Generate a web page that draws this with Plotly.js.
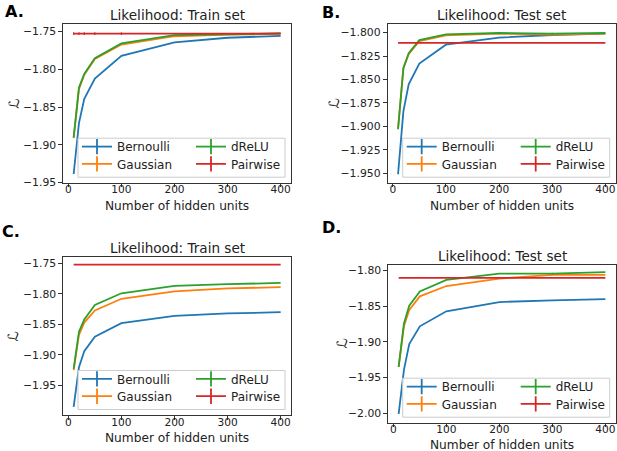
<!DOCTYPE html>
<html>
<head>
<meta charset="utf-8">
<script src="https://cdn.plot.ly/plotly-3.0.1.min.js"></script>
<style>html,body{margin:0;padding:0;background:#fff;}#chart{width:617px;height:451px;}</style>
</head>
<body>
<div id="chart"></div>
<script>
// ---------------- data ----------------
var hidden = [10, 20, 30, 50, 100, 200, 300, 400];
var xTicks = [0, 100, 200, 300, 400];
var seriesNames = ['Bernoulli', 'Gaussian', 'dReLU', 'Pairwise'];
var seriesColors = ['#1f77b4', '#ff7f0e', '#2ca02c', '#d62728'];
var panelTitles = ['Likelihood: Train set', 'Likelihood: Test set', 'Likelihood: Train set', 'Likelihood: Test set'];
var panelLetters = ['A.', 'B.', 'C.', 'D.'];
var xTitle = 'Number of hidden units';
var yTitle = 'ℒ';

// Panel A (train)
var bernA  = [-1.9385, -1.871, -1.839, -1.812, -1.782, -1.764, -1.758, -1.7555];
var gaussA = [-1.891, -1.826, -1.807, -1.786, -1.767, -1.756, -1.754, -1.753];
var dreluA = [-1.890, -1.824, -1.806, -1.785, -1.7655, -1.7545, -1.7535, -1.752];
var pairA  = -1.7525;
var pairErrA = [0.0018, 0.0018, 0.0018, 0.0018, 0.0018, 0, 0, 0];
// Panel B (test)
var bernB  = [-1.951, -1.884, -1.855, -1.833, -1.8128, -1.8053, -1.8025, -1.801];
var gaussB = [-1.902, -1.838, -1.823, -1.809, -1.803, -1.801, -1.802, -1.801];
var dreluB = [-1.903, -1.838, -1.822, -1.808, -1.8018, -1.8004, -1.801, -1.8004];
var dreluErrB = [0, 0, 0, 0, 0, 0.0009, 0.0009, 0];
var pairB  = -1.811;
// Panel C (train)
var bernC  = [-1.985, -1.920, -1.894, -1.870, -1.848, -1.836, -1.832, -1.830];
var gaussC = [-1.925, -1.867, -1.847, -1.827, -1.808, -1.796, -1.791, -1.789];
var dreluC = [-1.923, -1.862, -1.842, -1.818, -1.799, -1.787, -1.784, -1.782];
var pairC  = -1.752;
// Panel D (test)
var bernD  = [-2.001, -1.939, -1.903, -1.878, -1.857, -1.844, -1.8415, -1.840];
var gaussD = [-1.935, -1.878, -1.855, -1.836, -1.8215, -1.811, -1.806, -1.806];
var dreluD = [-1.935, -1.874, -1.849, -1.829, -1.813, -1.804, -1.804, -1.802];
var dreluErrD = [0, 0, 0, 0, 0, 0, 0.0012, 0];
var pairD  = -1.810;

// ---------------- layout helpers ----------------
var W = 617, H = 451;
function px(x) { return x / W; }
function py(y) { return 1 - y / H; }

// frame boxes in pixels: [left, right, top, bottom]
var frames = [
  [63.3, 291, 24.3, 182.7],
  [387.7, 615.7, 24.3, 182.7],
  [63.3, 291, 257.3, 415],
  [388.3, 615.7, 264.7, 422.7]
];
var xRange = [-9.5, 419.5];
var yRanges = [[-1.95, -1.7402], [-1.960, -1.7911], [-1.9985, -1.740], [-2.0132, -1.7916]];
var yTicks = [
  [-1.95, -1.90, -1.85, -1.80, -1.75],
  [-1.950, -1.925, -1.900, -1.875, -1.850, -1.825, -1.800],
  [-1.95, -1.90, -1.85, -1.80, -1.75],
  [-2.00, -1.95, -1.90, -1.85, -1.80]
];
var yFormats = ['.2f', '.3f', '.2f', '.2f'];
var letterPos = [[14, 11], [331, 12.5], [11, 231], [331, 228]];
var yTitleX = [13.3, 333, 13.3, 341.7];
var xTitleGap = [23, 23, 23.3, 21.8];

var panelData = [
  [bernA, gaussA, dreluA, pairA],
  [bernB, gaussB, dreluB, pairB],
  [bernC, gaussC, dreluC, pairC],
  [bernD, gaussD, dreluD, pairD]
];
var panelErrors = [
  [null, null, null, pairErrA],
  [null, null, dreluErrB, null],
  [null, null, null, null],
  [null, null, dreluErrD, null]
];

var FONT = 'DejaVu Sans, sans-serif';
var traces = [];
var layout = {
  width: W, height: H,
  margin: {l: 0, r: 0, t: 0, b: 0},
  paper_bgcolor: '#fff', plot_bgcolor: '#fff',
  showlegend: true,
  annotations: [], shapes: []
};

// legend slots: [column, row] for each series (column-major like the reference)
var slot = [[0, 0], [0, 1], [1, 0], [1, 1]];
var legendCount = 0;

for (var p = 0; p < 4; p++) {
  var sfx = p === 0 ? '' : String(p + 1);
  var f = frames[p];
  var vals = panelData[p];
  // data traces
  for (var s = 0; s < 4; s++) {
    var yv = (s === 3) ? hidden.map(function () { return vals[3]; }) : vals[s];
    var tr = {
      type: 'scatter', mode: 'lines', x: hidden, y: yv,
      xaxis: 'x' + sfx, yaxis: 'y' + sfx,
      line: {color: seriesColors[s], width: 1.8},
      showlegend: false, hoverinfo: 'skip'
    };
    if (panelErrors[p][s]) {
      tr.error_y = {type: 'data', array: panelErrors[p][s], visible: true,
                    color: seriesColors[s], thickness: 1.2, width: 0};
    }
    traces.push(tr);
  }
  // legend box
  var bRight = f[1] - 6, bLeft = bRight - 207, bBottom = f[3] - 5.5, bTop = bBottom - 39;
  layout.shapes.push({
    type: 'rect', xref: 'paper', yref: 'paper', layer: 'above',
    x0: px(bLeft), x1: px(bRight), y0: py(bBottom), y1: py(bTop),
    line: {color: '#cccccc', width: 1}, fillcolor: 'rgba(255,255,255,0.8)'
  });
  // one legend per entry so that rows and columns sit where the reference has them
  for (var s2 = 0; s2 < 4; s2++) {
    var lname = 'legend' + (legendCount === 0 ? '' : String(legendCount + 1));
    legendCount++;
    var rowC = bTop + (slot[s2][1] === 0 ? 8.7 : 26);
    layout[lname] = {
      x: px(bLeft + (slot[s2][0] === 0 ? 0 : 114) - 1), y: py(rowC - 14.8),
      xanchor: 'left', yanchor: 'top',
      bgcolor: 'rgba(0,0,0,0)', borderwidth: 0,
      font: {family: FONT, size: 12, color: '#222'},
      itemwidth: 30
    };
    traces.push({
      type: 'scatter', mode: 'lines+markers', x: [null], y: [null],
      xaxis: 'x' + sfx, yaxis: 'y' + sfx,
      name: seriesNames[s2], legend: lname, showlegend: true,
      line: {color: seriesColors[s2], width: 1.8},
      marker: {symbol: 'line-ns-open', size: 11, line: {color: seriesColors[s2], width: 1.8}},
      hoverinfo: 'skip'
    });
  }
  // axes: main x axis draws the frame and tick marks
  layout['xaxis' + sfx] = {
    domain: [px(f[0]), px(f[1])], anchor: 'y' + sfx, range: xRange,
    tickvals: xTicks, ticks: 'outside', ticklen: 3.5, tickcolor: '#333',
    showline: true, mirror: true, linecolor: '#333', linewidth: 1,
    showgrid: false, zeroline: false, showticklabels: false
  };
  // overlay x axis that carries the tick labels, placed a little higher
  var lab = 'xaxis' + (p + 5);
  layout[lab] = {
    overlaying: 'x' + sfx, anchor: 'free', position: py(f[3] - 1), side: 'bottom',
    range: xRange, tickvals: xTicks, ticks: '', showline: false,
    showgrid: false, zeroline: false,
    tickfont: {family: FONT, size: 10.6, color: '#222'}
  };
  traces.push({type: 'scatter', mode: 'lines', x: [null], y: [null],
               xaxis: 'x' + (p + 5), yaxis: 'y' + sfx, showlegend: false, hoverinfo: 'skip'});
  layout['yaxis' + sfx] = {
    domain: [py(f[3]), py(f[2])], anchor: 'x' + sfx, range: yRanges[p],
    tickvals: yTicks[p], tickformat: yFormats[p], ticks: 'outside', ticklen: 4, tickcolor: '#333',
    showline: true, mirror: true, linecolor: '#333', linewidth: 1,
    showgrid: false, zeroline: false,
    tickfont: {family: FONT, size: 10.8, color: '#222'}
  };
  // x axis title
  layout.annotations.push({
    xref: 'paper', yref: 'paper', x: px((f[0] + f[1]) / 2), y: py(f[3] + xTitleGap[p]),
    xanchor: 'center', yanchor: 'middle', showarrow: false, borderpad: 0,
    text: xTitle, font: {family: FONT, size: 12.2, color: '#222'}
  });
  // y axis title
  layout.annotations.push({
    xref: 'paper', yref: 'paper', x: px(yTitleX[p]), y: py((f[2] + f[3]) / 2),
    xanchor: 'center', yanchor: 'middle', showarrow: false, textangle: -90, borderpad: 0,
    text: yTitle, font: {family: FONT, size: 14, color: '#222'}
  });
  // panel title
  layout.annotations.push({
    xref: 'paper', yref: 'paper', x: px((f[0] + f[1]) / 2), y: py(f[2]),
    xanchor: 'center', yanchor: 'middle', yshift: 9, showarrow: false, borderpad: 0,
    text: panelTitles[p], font: {family: FONT, size: 13.6, color: '#222'}
  });
  // panel letter
  layout.annotations.push({
    xref: 'paper', yref: 'paper', x: px(letterPos[p][0]), y: py(letterPos[p][1]),
    xanchor: 'center', yanchor: 'middle', showarrow: false, borderpad: 0,
    text: '<b>' + panelLetters[p] + '</b>', font: {family: FONT, size: 16, color: '#000'}
  });
}

Plotly.newPlot('chart', traces, layout, {staticPlot: true, displayModeBar: false});
</script>
</body>
</html>
